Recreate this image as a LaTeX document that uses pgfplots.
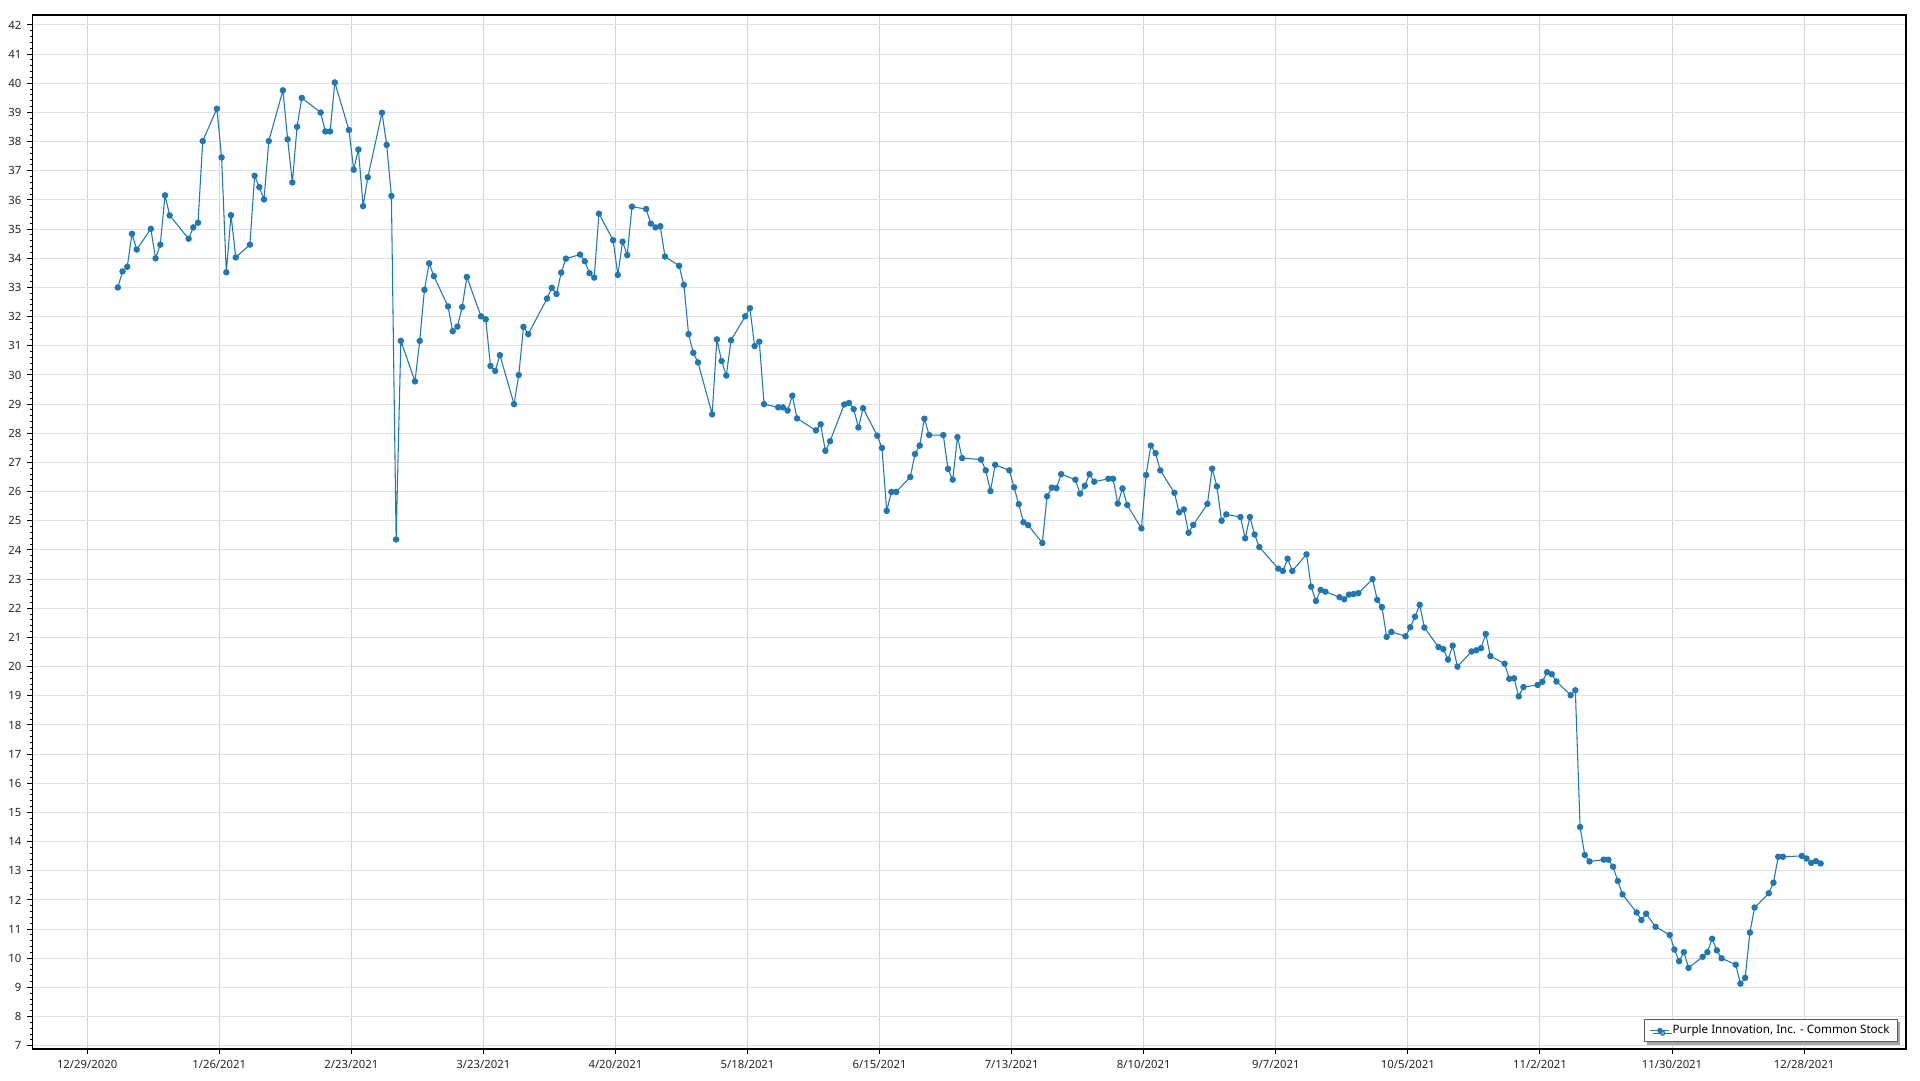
\documentclass[border=0pt]{standalone}
\usepackage{pgfplots}
\pgfplotsset{compat=1.18}
\usepackage{fontspec}
\setmainfont{Noto Sans}
\usetikzlibrary{shadows}
\definecolor{lineblue}{RGB}{31,119,180}
\definecolor{gridh}{RGB}{225,225,225}
\definecolor{gridv}{RGB}{212,212,212}
\begin{document}
\begin{tikzpicture}
\begin{axis}[
  scale only axis=true,
  width=1404pt, height=775pt,
  xmin=-12.05, xmax=385.1,
  ymin=6.887, ymax=42.343,
  axis line style={black, line width=1pt},
  xtick={-0.5,27.5,55.5,83.5,111.5,139.5,167.5,195.5,223.5,251.5,279.5,307.5,335.5,363.5},
  xticklabels={12/29/2020,1/26/2021,2/23/2021,3/23/2021,4/20/2021,5/18/2021,6/15/2021,7/13/2021,8/10/2021,9/7/2021,10/5/2021,11/2/2021,11/30/2021,12/28/2021},
  ytick={7,8,...,42},
  minor y tick num=4,
  tick align=outside,
  major tick length=4pt,
  minor tick length=2pt,
  tick style={black, line width=0.75pt},
  xtick pos=bottom, ytick pos=left,
  grid=major,
  x grid style={gridv, line width=0.75pt},
  y grid style={gridh, line width=0.75pt},
  /pgf/number format/assume math mode=true,
  ticklabel style={font=\fontsize{8.5}{10}\selectfont, text=black!85},
  xticklabel style={yshift=-1pt},
  yticklabel style={xshift=-1pt},
  legend style={at={(1,0)}, anchor=south east, xshift=-6pt, yshift=5pt,
    draw=black!65, line width=0.75pt, fill=white,
    font=\fontsize{8.7}{10.5}\selectfont, inner xsep=4pt, inner ysep=2.5pt,
    drop shadow={shadow xshift=2pt, shadow yshift=-2pt, fill=black!35, opacity=1}},
  legend cell align=left,
  legend image code/.code={
    \draw[lineblue, line width=0.8pt] (0cm,0cm) -- (0.5cm,0cm);
    \fill[lineblue] (0.25cm,0cm) circle (1.6pt);
  },
]
\addplot[color=lineblue, line width=0.8pt, mark=*, mark size=2pt, mark options={fill=lineblue, draw=lineblue}] table {
x y
6 33.00
7 33.55
8 33.71
9 34.84
10 34.30
13 35.01
14 34.00
15 34.47
16 36.16
17 35.47
21 34.67
22 35.06
23 35.22
24 38.02
27 39.13
28 37.46
29 33.52
30 35.48
31 34.03
34 34.47
35 36.83
36 36.44
37 36.02
38 38.02
41 39.76
42 38.08
43 36.60
44 38.51
45 39.50
49 39.00
50 38.35
51 38.35
52 40.03
55 38.40
56 37.04
57 37.73
58 35.79
59 36.78
62 38.99
63 37.89
64 36.14
65 24.36
66 31.17
69 29.78
70 31.17
71 32.92
72 33.83
73 33.39
76 32.35
77 31.50
78 31.66
79 32.33
80 33.36
83 32.01
84 31.91
85 30.31
86 30.14
87 30.68
90 29.00
91 30.00
92 31.65
93 31.40
97 32.62
98 32.99
99 32.78
100 33.51
101 33.99
104 34.13
105 33.90
106 33.49
107 33.34
108 35.53
111 34.62
112 33.43
113 34.57
114 34.11
115 35.77
118 35.69
119 35.19
120 35.06
121 35.10
122 34.06
125 33.74
126 33.09
127 31.40
128 30.76
129 30.43
132 28.65
133 31.22
134 30.48
135 29.98
136 31.19
139 32.01
140 32.29
141 30.99
142 31.14
143 29.00
146 28.89
147 28.89
148 28.78
149 29.29
150 28.51
154 28.10
155 28.31
156 27.40
157 27.73
160 28.99
161 29.04
162 28.83
163 28.20
164 28.86
167 27.92
168 27.50
169 25.34
170 25.99
171 25.99
174 26.50
175 27.29
176 27.58
177 28.50
178 27.94
181 27.94
182 26.78
183 26.41
184 27.87
185 27.15
189 27.10
190 26.73
191 26.02
192 26.92
195 26.73
196 26.15
197 25.57
198 24.95
199 24.85
202 24.24
203 25.84
204 26.14
205 26.12
206 26.60
209 26.41
210 25.93
211 26.20
212 26.60
213 26.34
216 26.44
217 26.44
218 25.59
219 26.11
220 25.54
223 24.74
224 26.57
225 27.58
226 27.32
227 26.73
230 25.96
231 25.29
232 25.39
233 24.59
234 24.86
237 25.58
238 26.79
239 26.18
240 25.00
241 25.22
244 25.13
245 24.40
246 25.13
247 24.53
248 24.10
252 23.36
253 23.28
254 23.70
255 23.28
258 23.85
259 22.74
260 22.25
261 22.63
262 22.57
265 22.38
266 22.31
267 22.47
268 22.49
269 22.52
272 23.00
273 22.29
274 22.04
275 21.02
276 21.19
279 21.04
280 21.35
281 21.71
282 22.12
283 21.34
286 20.67
287 20.60
288 20.24
289 20.72
290 20.00
293 20.52
294 20.56
295 20.63
296 21.12
297 20.36
300 20.10
301 19.58
302 19.60
303 18.98
304 19.30
307 19.37
308 19.48
309 19.81
310 19.74
311 19.49
314 19.02
315 19.19
316 14.50
317 13.54
318 13.32
321 13.38
322 13.38
323 13.14
324 12.65
325 12.19
328 11.57
329 11.31
330 11.53
332 11.08
335 10.80
336 10.30
337 9.90
338 10.21
339 9.67
342 10.05
343 10.21
344 10.67
345 10.27
346 10.00
349 9.78
350 9.13
351 9.33
352 10.88
353 11.74
356 12.23
357 12.59
358 13.48
359 13.48
363 13.51
364 13.42
365 13.27
366 13.33
367 13.25
};
\addlegendentry{Purple Innovation, Inc. - Common Stock}
\end{axis}
\path (current axis.south west) ++(-24.5pt,-23.8pt);
\path (current axis.north east) ++(10.5pt,11.25pt);
\end{tikzpicture}
\end{document}
